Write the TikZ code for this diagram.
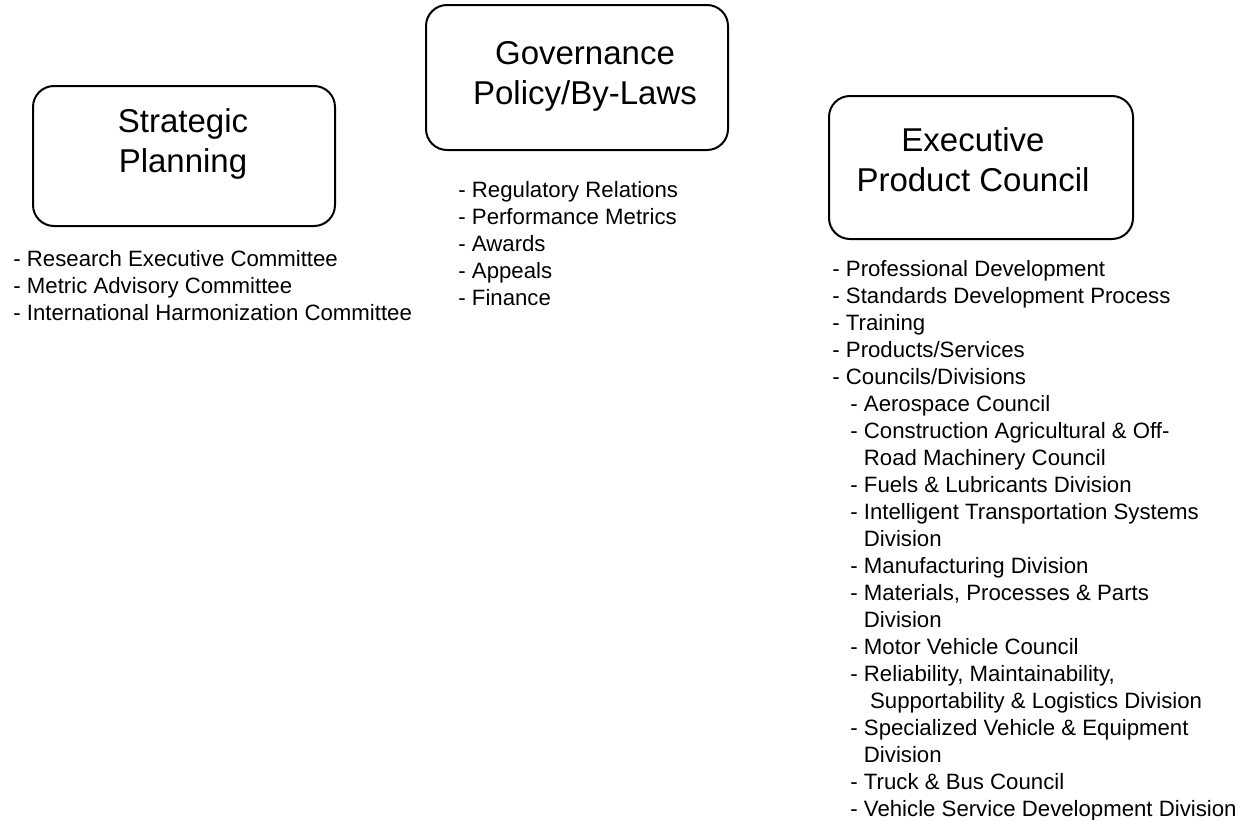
\documentclass[tikz,border=0pt]{standalone}
\usepackage{fontspec}
\setmainfont{Liberation Sans}

% indents for the council/division sub-list
\newcommand{\subdash}{\hspace*{9pt}- }
\newcommand{\wrapind}{\hspace*{9pt}\phantom{- }}

\tikzset{
  groupbox/.style={draw, line width=1pt, rounded corners=10.5pt, inner sep=0pt},
  grouptitle/.style={align=center, inner sep=0pt, font=\fontsize{16.5}{20}\selectfont},
  itemlist/.style={align=left, anchor=north west, inner sep=0pt, font=\fontsize{11.1}{13.5}\selectfont},
}

\begin{document}
\begin{tikzpicture}[x=0.5pt, y=-0.5pt]
  \useasboundingbox (0,0) rectangle (1247,819);

  % strategic planning
  \node[groupbox, minimum width=151pt, minimum height=70pt] (plan) at (184,156) {};
  \node[grouptitle] (plantitle) at (183,144) {Strategic\\Planning};
  \node[itemlist] (planlist) at (13,250) {- Research Executive Committee\\
    - Metric Advisory Committee\\
    - International Harmonization Committee};

  % governance
  \node[groupbox, minimum width=151pt, minimum height=72.5pt] (gov) at (577,77.5) {};
  \node[grouptitle] (govtitle) at (585,76) {Governance\\Policy/By-Laws};
  \node[itemlist] (govlist) at (458,181) {- Regulatory Relations\\
    - Performance Metrics\\
    - Awards\\
    - Appeals\\
    - Finance};

  % executive product council
  \node[groupbox, minimum width=152pt, minimum height=71.5pt] (exec) at (981,167.5) {};
  \node[grouptitle] (exectitle) at (973,160) {Executive\\Product Council};
  \node[itemlist] (execlist) at (832,260) {- Professional Development\\
    - Standards Development Process\\
    - Training\\
    - Products/Services\\
    - Councils/Divisions\\
    \subdash Aerospace Council\\
    \subdash Construction Agricultural \& Off-\\
    \wrapind Road Machinery Council\\
    \subdash Fuels \& Lubricants Division\\
    \subdash Intelligent Transportation Systems\\
    \wrapind Division\\
    \subdash Manufacturing Division\\
    \subdash Materials, Processes \& Parts\\
    \wrapind Division\\
    \subdash Motor Vehicle Council\\
    \subdash Reliability, Maintainability,\\
    \wrapind\ Supportability \& Logistics Division\\
    \subdash Specialized Vehicle \& Equipment\\
    \wrapind Division\\
    \subdash Truck \& Bus Council\\
    \subdash Vehicle Service Development Division};
\end{tikzpicture}
\end{document}
